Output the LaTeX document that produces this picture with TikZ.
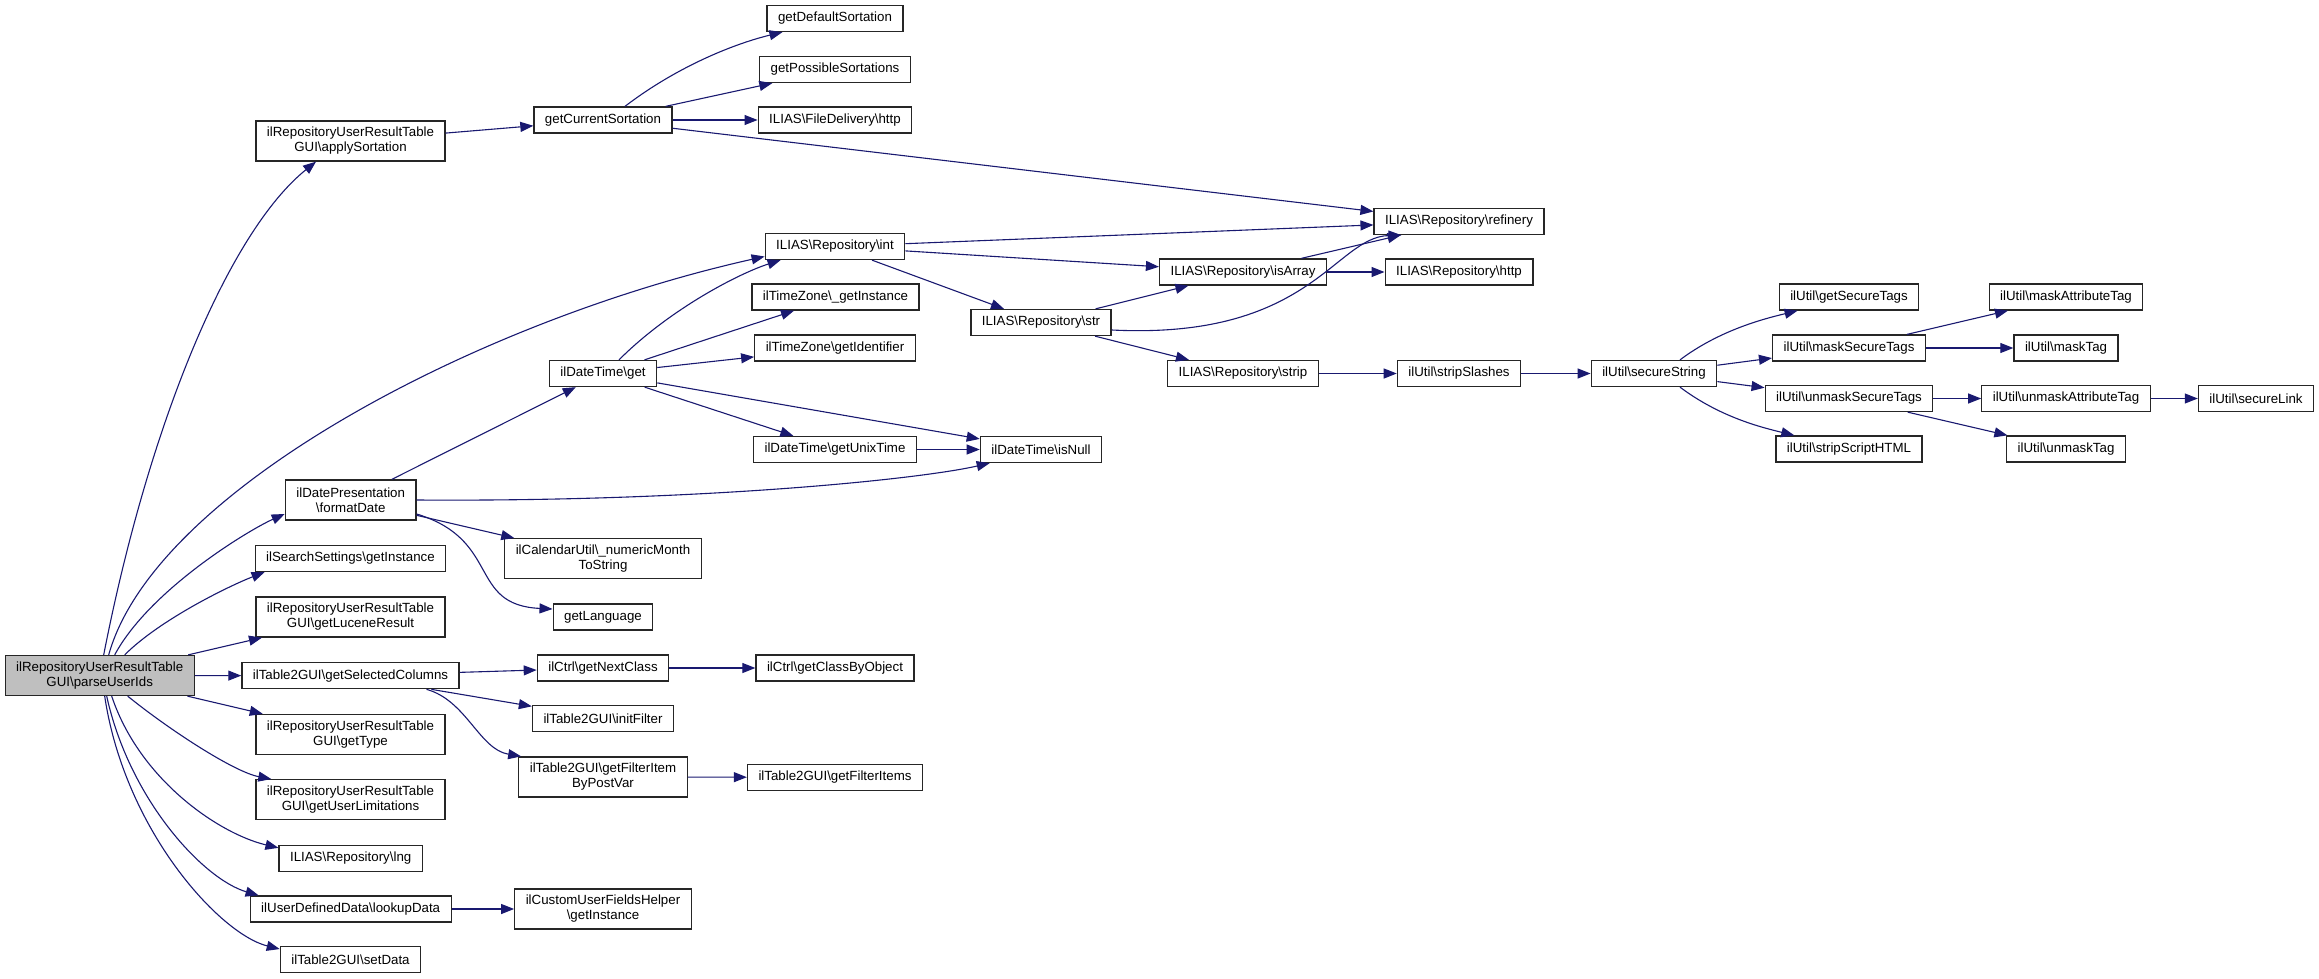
\documentclass[tikz,border=0pt]{standalone}
\usepackage{fontspec}
\setmainfont{Liberation Sans}
\usetikzlibrary{arrows.meta}
\definecolor{edgeblue}{HTML}{191970}
\newcommand{\bsl}{\textbackslash}

\begin{document}
\begin{tikzpicture}[x=1pt,y=-1pt,
  fn/.style={draw=black!85,line width=1.3pt,fill=white,inner xsep=11pt,inner ysep=0pt,
    minimum height=26pt,align=center,font=\fontsize{13.3}{15}\selectfont},
  fntwo/.style={fn,minimum height=40pt},
  call/.style={edgeblue,line width=1.1pt,-{Triangle[length=13pt,width=10pt]}}]
\useasboundingbox (0,0) rectangle (2319,979);

% caller
\node[fntwo,fill=black!25] (pui) at (99.7,675.5) {ilRepositoryUserResultTable\\GUI\bsl parseUserIds};

% first level
\node[fntwo] (ast) at (350.5,141) {ilRepositoryUserResultTable\\GUI\bsl applySortation};
\node[fntwo] (fmt) at (350.7,500) {ilDatePresentation\\\bsl formatDate};
\node[fn] (sss) at (350.5,558.5) {ilSearchSettings\bsl getInstance};
\node[fntwo] (glr) at (350.5,617) {ilRepositoryUserResultTable\\GUI\bsl getLuceneResult};
\node[fn] (gsc) at (350.5,675.7) {ilTable2GUI\bsl getSelectedColumns};
\node[fntwo] (gty) at (350.5,734.5) {ilRepositoryUserResultTable\\GUI\bsl getType};
\node[fntwo] (gul) at (350.5,799.7) {ilRepositoryUserResultTable\\GUI\bsl getUserLimitations};
\node[fn] (lng) at (350.7,858.5) {ILIAS\bsl Repository\bsl lng};
\node[fn] (lud) at (350.7,909) {ilUserDefinedData\bsl lookupData};
\node[fn] (sdt) at (350.5,959.7) {ilTable2GUI\bsl setData};

% second level
\node[fn] (gcs) at (603,120) {getCurrentSortation};
\node[fn] (dtg) at (603,373.5) {ilDateTime\bsl get};
\node[fntwo] (cal) at (603,558.7) {ilCalendarUtil\bsl\_numericMonth\\ToString};
\node[fn] (glg) at (603,617) {getLanguage};
\node[fn] (gnc) at (603,668) {ilCtrl\bsl getNextClass};
\node[fn] (inf) at (603,718.3) {ilTable2GUI\bsl initFilter};
\node[fntwo] (fib) at (603,777) {ilTable2GUI\bsl getFilterItem\\ByPostVar};
\node[fntwo] (cuf) at (603,909) {ilCustomUserFieldsHelper\\\bsl getInstance};

\node[fn] (gds) at (835,18.5) {getDefaultSortation};
\node[fn] (gps) at (835,69.5) {getPossibleSortations};
\node[fn] (fdh) at (835,120) {ILIAS\bsl FileDelivery\bsl http};
\node[fn] (rint) at (835,246.5) {ILIAS\bsl Repository\bsl int};
\node[fn] (tzi) at (835.5,297) {ilTimeZone\bsl\_getInstance};
\node[fn] (tzd) at (835,348) {ilTimeZone\bsl getIdentifier};
\node[fn] (dtu) at (835,449.5) {ilDateTime\bsl getUnixTime};
\node[fn] (gcb) at (835,668) {ilCtrl\bsl getClassByObject};
\node[fn] (gfi) at (835,777.3) {ilTable2GUI\bsl getFilterItems};

\node[fn] (rstr) at (1041,322.5) {ILIAS\bsl Repository\bsl str};
\node[fn] (dtn) at (1041,449.5) {ilDateTime\bsl isNull};

\node[fn] (rarr) at (1243,272) {ILIAS\bsl Repository\bsl isArray};
\node[fn] (rstp) at (1243,373.5) {ILIAS\bsl Repository\bsl strip};

\node[fn] (rref) at (1459,221.5) {ILIAS\bsl Repository\bsl refinery};
\node[fn] (rhtp) at (1459,272) {ILIAS\bsl Repository\bsl http};
\node[fn] (sls) at (1459,373.5) {ilUtil\bsl stripSlashes};

\node[fn] (sst) at (1654,373.5) {ilUtil\bsl secureString};

\node[fn] (gst) at (1849,297) {ilUtil\bsl getSecureTags};
\node[fn] (mst) at (1849,348) {ilUtil\bsl maskSecureTags};
\node[fn] (ust) at (1849,398.5) {ilUtil\bsl unmaskSecureTags};
\node[fn] (ssh) at (1849,449) {ilUtil\bsl stripScriptHTML};

\node[fn] (mat) at (2066,297) {ilUtil\bsl maskAttributeTag};
\node[fn] (mtg) at (2066,348) {ilUtil\bsl maskTag};
\node[fn] (uat) at (2066,398.5) {ilUtil\bsl unmaskAttributeTag};
\node[fn] (utg) at (2066,449) {ilUtil\bsl unmaskTag};

\node[fn] (slk) at (2256,398.5) {ilUtil\bsl secureLink};

% straight calls
\foreach \a/\b in {ast/gcs, gcs/gps, gcs/fdh, gcs/rref, rint/rref, rint/rarr, rint/rstr,
  dtg/tzi, dtg/tzd, dtg/dtu, dtg/dtn, dtu/dtn, fmt/dtg, fmt/cal, rarr/rref, rarr/rhtp,
  rstr/rarr, rstr/rstp, rstp/sls, sls/sst, sst/mst, sst/ust, mst/mat, mst/mtg,
  ust/uat, ust/utg, uat/slk, pui/glr, pui/gsc, pui/gty, gsc/gnc, gsc/inf, gnc/gcb,
  fib/gfi, lud/cuf}
{
\draw[call] (\a) -- (\b);
}

% curved calls
\draw[call] ([xshift=4pt]pui.north) .. controls +(46,-235) and +(-86,69) .. ([xshift=-34.5pt]ast.south);
\draw[call] ([xshift=9pt]pui.north) .. controls +(46,-165) and +(-285,63.5) .. ([yshift=-10pt]rint.west);
\draw[call] ([xshift=15pt]pui.north) .. controls +(35,-65) and +(-36,16) .. ([yshift=-14pt]fmt.west);
\draw[call] ([xshift=25pt]pui.north) .. controls +(35,-35) and +(-36,14) .. ([xshift=10pt]sss.south west);
\draw[call] ([xshift=28pt]pui.south) .. controls +(42,34) and +(-37,-7) .. ([xshift=16pt]gul.north west);
\draw[call] ([xshift=12pt]pui.south) .. controls +(28,84) and +(-59,-14) .. ([yshift=-3pt]lng.north west);
\draw[call] ([xshift=7pt]pui.south) .. controls +(23,104) and +(-55,-16) .. ([xshift=9pt]lud.north west);
\draw[call] ([xshift=5pt]pui.south) .. controls +(20,134) and +(-60,-15) .. ([yshift=-3pt]sdt.north west);

\draw[call] ([xshift=22pt]gcs.north) .. controls +(55,-42) and +(-44,10.5) .. ([xshift=16pt]gds.south west);
\draw[call] ([xshift=16pt]dtg.north) .. controls +(51,-51) and +(-41,13) .. ([xshift=16pt]rint.south west);
\draw[call] (fmt.east) .. controls +(285,2) and +(-70,16) .. ([xshift=10pt]dtn.south west);
\draw[call] ([yshift=-14pt]fmt.east) .. controls +(85,26) and +(-85,-4) .. ([yshift=8pt]glg.west);
\draw[call] ([xshift=76pt]gsc.south) .. controls +(40,11) and +(-42,-7) .. ([xshift=3pt]fib.north west);
\draw[call] ([yshift=-7.5pt]rstr.east) .. controls +(199,10) and +(-67,2) .. ([xshift=28pt]rref.south west);
\draw[call] ([xshift=26pt]sst.north) .. controls +(40,-30) and +(-33,8) .. ([xshift=19pt]gst.south west);
\draw[call] ([xshift=26pt]sst.south) .. controls +(40,30) and +(-33,-8) .. ([xshift=19pt]ssh.north west);
\end{tikzpicture}
\end{document}
